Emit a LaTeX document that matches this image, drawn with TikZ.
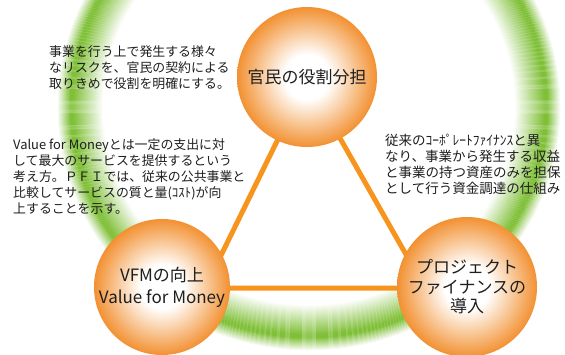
\documentclass[tikz,border=0pt]{standalone}
\usepackage{fontspec}
\setmainfont{Noto Sans CJK JP}
\definecolor{ringgreen}{RGB}{128,192,56}
\definecolor{lineorange}{RGB}{247,148,30}
\definecolor{ballorange}{RGB}{242,145,50}
\definecolor{txt}{RGB}{30,30,30}
\pgfdeclareradialshading{ballshade}{\pgfpoint{0bp}{0bp}}{color(0bp)=(white); color(8bp)=(white); color(25bp)=(ballorange); color(50bp)=(ballorange)}
\tikzset{
  note/.style={anchor=west, align=left, inner sep=0pt, text=txt, font=\fontsize{12.9}{15.9}\selectfont},
  ball/.style={circle, shade, shading=ballshade, inner sep=0pt, align=center, text=txt},
  tri/.style={draw=lineorange, line width=5pt},
  ringline/.style={line width=1.15pt}
}
\begin{document}
\begin{tikzpicture}[x=1pt, y=-1pt]
\useasboundingbox (0,0) rectangle (565,354);
\begin{scope}
  \clip (0,0) rectangle (565,354);
  \foreach \d in {-30,...,16} {
    \pgfmathsetmacro\p{100*min(1,(\d+30)/30,(16-\d)/13)}
    \pgfmathsetmacro\rx{236+\d}
    \pgfmathsetmacro\ry{228+\d}
    \draw[ringline, draw=ringgreen!\p!white] plot[domain=0:360, samples=121, variable=\t] ({309+\rx*cos(\t)}, {107+\ry*sin(\t)});
  }
\end{scope}
% text blocks
\node[note] (t1) at (49,68) {事業を行う上で発生する様々\\なリスクを、官民の契約による\\取りきめで役割を明確にする。};
\node[note] (t2) at (13,176.5) {Value for Moneyとは一定の支出に対\\して最大のサービスを提供するという\\考え方。ＰＦＩでは、従来の公共事業と\\比較してサービスの質と量(ｺｽﾄ)が向\\上することを示す。};
\node[note, font=\fontsize{13.5}{16}\selectfont] (t3) at (385,164) {従来のｺｰﾎﾟﾚｰﾄﾌｧｲﾅﾝｽと異\\なり、事業から発生する収益\\と事業の持つ資産のみを担保\\として行う資金調達の仕組み};
% triangle
\coordinate (A) at (307,80);
\coordinate (B) at (205,288);
\coordinate (C) at (425,288);
\draw[tri] (A) -- (B) -- (C) -- cycle;
% circles
\node[ball, minimum size=140pt, font=\fontsize{17}{21}\selectfont] (top) at (307,77) {官民の役割分担};
\node[ball, minimum size=136pt, font=\fontsize{17}{22}\selectfont] (left) at (162,287) {VFMの向上\\Value for Money};
\node[ball, minimum size=140pt, font=\fontsize{17}{19.5}\selectfont] (right) at (467,287) {プロジェクト\\ファイナンスの\\導入};
\end{tikzpicture}
\end{document}
